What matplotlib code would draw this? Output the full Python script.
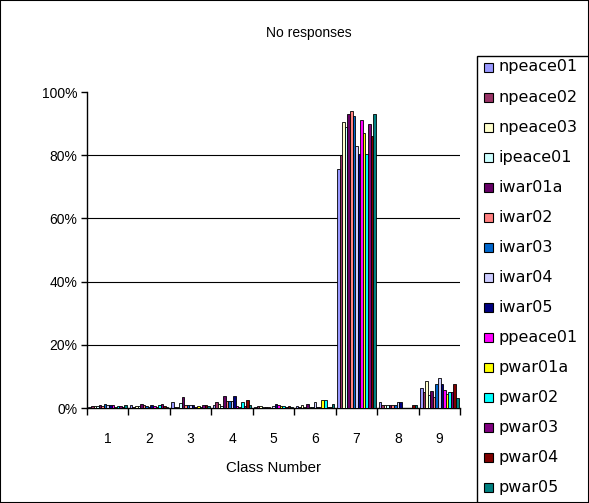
import numpy as np
from matplotlib import pyplot as plt
from matplotlib.patches import Rectangle
from matplotlib.ticker import FuncFormatter

plt.rcParams['font.family'] = ['Liberation Sans', 'DejaVu Sans']

### Data (percent of responses per class)
classes = ['1', '2', '3', '4', '5', '6', '7', '8', '9']
series_names = ['npeace01', 'npeace02', 'npeace03', 'ipeace01', 'iwar01a', 'iwar02',
                'iwar03', 'iwar04', 'iwar05', 'ppeace01', 'pwar01a', 'pwar02',
                'pwar03', 'pwar04', 'pwar05']

npeace01 = [0.4, 1.0, 1.9, 1.0, 0.2, 0.5, 75.5, 1.8, 6.4]
npeace02 = [0.6, 0.3, 0.2, 1.9, 0.5, 0.4, 80.0, 0.8, 5.0]
npeace03 = [0.6, 0.6, 0.3, 1.4, 0.5, 0.9, 90.5, 0.8, 8.4]
ipeace01 = [0.7, 0.5, 1.5, 0.5, 0.2, 0.3, 89.0, 0.8, 4.2]
iwar01a = [0.8, 1.4, 3.4, 3.9, 0.4, 1.4, 93.0, 0.8, 5.5]
iwar02 = [0.7, 0.9, 0.9, 2.3, 0.2, 0.4, 94.0, 0.8, 3.6]
iwar03 = [1.4, 0.6, 1.0, 2.3, 0.1, 0.3, 92.5, 0.8, 7.6]
iwar04 = [0.8, 0.3, 0.9, 2.3, 0.6, 1.9, 83.0, 1.8, 9.6]
iwar05 = [0.8, 1.0, 1.0, 3.9, 1.4, 0.4, 80.5, 1.8, 7.6]
ppeace01 = [1.0, 0.5, 0.3, 0.6, 0.8, 0.3, 91.0, 0.0, 5.6]
pwar01a = [0.3, 0.4, 0.5, 0.3, 0.5, 2.4, 87.0, 0.0, 4.5]
pwar02 = [0.5, 1.0, 0.3, 1.9, 0.5, 2.4, 80.5, 0.0, 5.0]
pwar03 = [0.7, 1.4, 0.9, 0.5, 0.3, 0.2, 90.0, 0.0, 5.1]
pwar04 = [0.3, 0.7, 0.8, 2.4, 0.5, 0.3, 86.0, 0.9, 7.5]
pwar05 = [0.8, 0.3, 0.6, 1.0, 0.2, 1.4, 93.0, 0.9, 3.2]

all_series = [npeace01, npeace02, npeace03, ipeace01, iwar01a, iwar02, iwar03, iwar04,
              iwar05, ppeace01, pwar01a, pwar02, pwar03, pwar04, pwar05]

### Excel default palette
colors = ['#9999FF', '#993366', '#FFFFCC', '#CCFFFF', '#660066', '#FF8080', '#0066CC',
          '#CCCCFF', '#000080', '#FF00FF', '#FFFF00', '#00FFFF', '#800080', '#800000',
          '#008080']

W, H = 589, 503
fig = plt.figure(figsize=(W / 100, H / 100), dpi=100)

### Plot area
ax = fig.add_axes([87 / W, 1 - 408 / H, (460 - 87) / W, (408 - 92) / H])

n = len(all_series)
group = 0.93
bw = group / n
x = np.arange(len(classes))
for i, (vals, c) in enumerate(zip(all_series, colors)):
    ax.bar(x - group / 2 + bw * (i + 0.5), vals, width=bw, color=c,
           edgecolor='black', linewidth=0.6, zorder=3)

ax.set_xlim(-0.5, len(classes) - 0.5)
ax.set_ylim(0, 100)
ax.set_yticks(range(0, 101, 20))
ax.yaxis.set_major_formatter(FuncFormatter(lambda v, p: f'{int(v)}%'))
for yv in range(20, 100, 20):
    ax.axhline(yv, color='black', linewidth=0.8, zorder=0)

### Category ticks between groups, labels in the middle
ax.set_xticks(np.arange(-0.5, len(classes), 1.0))
ax.set_xticklabels([])
ax.set_xticks(x, minor=True)
ax.set_xticklabels(classes, minor=True)
ax.tick_params(axis='x', which='major', length=5, width=1, direction='out')
ax.tick_params(axis='x', which='minor', length=0, pad=17, labelsize=10)
ax.tick_params(axis='y', length=4, width=1, direction='out', pad=3, labelsize=10)

for s in ['top', 'right']:
    ax.spines[s].set_visible(False)
ax.spines['left'].set_linewidth(1)
ax.spines['bottom'].set_linewidth(1)

ax.set_xlabel('Class Number', fontsize=10.8, labelpad=11)
fig.text(309 / W, 1 - 33 / H, 'No responses', ha='center', va='center', fontsize=10)

### Legend box drawn by hand
lx0, ly0 = 477, 56
fig.patches.append(Rectangle((lx0 / W, 0), (W - lx0) / W, 1 - ly0 / H,
                             transform=fig.transFigure, facecolor='white',
                             edgecolor='black', linewidth=1))
for i, (name, c) in enumerate(zip(series_names, colors)):
    yc = 67 + i * 30.07
    fig.patches.append(Rectangle((484 / W, 1 - (yc + 4.5) / H), 9 / W, 9 / H,
                                 transform=fig.transFigure, facecolor=c,
                                 edgecolor='black', linewidth=0.8))
    fig.text(498 / W, 1 - yc / H, name, ha='left', va='center', fontsize=11.5,
             family=['DejaVu Sans'])

### Outer border
fig.patches.append(Rectangle((0, 0), 1, 1, transform=fig.transFigure, fill=False,
                             edgecolor='black', linewidth=1.5))

fig.savefig('out.png', dpi=100)
